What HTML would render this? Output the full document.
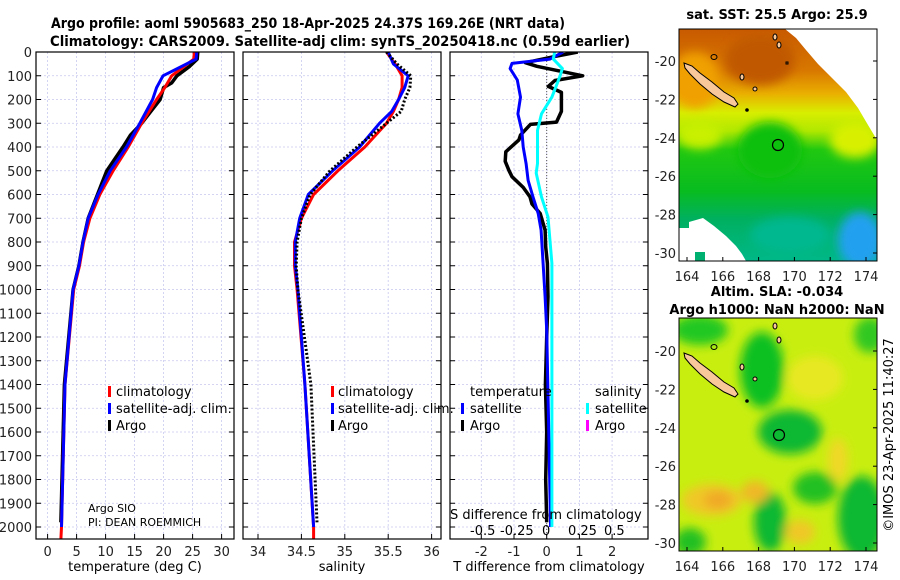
<!DOCTYPE html>
<html><head><meta charset="utf-8">
<style>
html,body{margin:0;padding:0;background:#fff;}
svg{display:block;font-family:"DejaVu Sans","Liberation Sans",sans-serif;}
</style></head>
<body>
<svg id="fig" width="900" height="580" viewBox="0 0 900 580" xmlns="http://www.w3.org/2000/svg">
<defs>
<filter id="blur8" x="-20%" y="-20%" width="140%" height="140%"><feGaussianBlur stdDeviation="8"/></filter>
<filter id="blur5" x="-20%" y="-20%" width="140%" height="140%"><feGaussianBlur stdDeviation="5"/></filter>
<clipPath id="clip1"><rect x="36" y="52" width="198" height="487"/></clipPath>
<clipPath id="clip2"><rect x="243" y="52" width="198" height="487"/></clipPath>
<clipPath id="clip3"><rect x="450" y="52" width="198" height="487"/></clipPath>
<clipPath id="clipm1"><rect x="679" y="29" width="198" height="232"/></clipPath>
<clipPath id="clipm2"><rect x="679" y="318" width="198" height="233"/></clipPath>
<linearGradient id="sstg" x1="0" y1="0" x2="0" y2="1">
<stop offset="0" stop-color="#c85a00"/><stop offset="0.18" stop-color="#d87800"/>
<stop offset="0.28" stop-color="#eab000"/><stop offset="0.36" stop-color="#d8ee00"/>
<stop offset="0.44" stop-color="#b0e800"/><stop offset="0.52" stop-color="#20c810"/>
<stop offset="0.7" stop-color="#08bc20"/><stop offset="0.82" stop-color="#00b060"/>
<stop offset="1" stop-color="#00b888"/></linearGradient>
</defs>

<g font-weight="bold" font-size="14">
<text x="51" y="28" textLength="514" lengthAdjust="spacingAndGlyphs">Argo profile: aoml 5905683_250 18-Apr-2025 24.37S 169.26E (NRT data)</text>
<text x="50" y="46" textLength="580" lengthAdjust="spacingAndGlyphs">Climatology: CARS2009. Satellite-adj clim: synTS_20250418.nc (0.59d earlier)</text>
</g>

<g id="grid"></g>
<g id="lines"></g>
<g id="axes"></g>

<g font-size="13">
<rect x="108" y="386" width="3" height="11" fill="#f00"/><text x="116" y="396">climatology</text>
<rect x="108" y="403" width="3" height="11" fill="#00f"/><text x="116" y="413">satellite-adj. clim.</text>
<rect x="108" y="420" width="3" height="11" fill="#000"/><text x="116" y="430">Argo</text>
</g>
<g font-size="13">
<rect x="331" y="386" width="3" height="11" fill="#f00"/><text x="338" y="396">climatology</text>
<rect x="331" y="403" width="3" height="11" fill="#00f"/><text x="338" y="413">satellite-adj. clim.</text>
<rect x="331" y="420" width="3" height="11" fill="#000"/><text x="338" y="430">Argo</text>
</g>
<g font-size="13">
<text x="470" y="396">temperature</text><text x="595" y="396">salinity</text>
<rect x="461" y="403" width="3" height="11" fill="#00f"/><text x="470" y="413">satellite</text>
<rect x="461" y="420" width="3" height="11" fill="#000"/><text x="470" y="430">Argo</text>
<rect x="586" y="403" width="3" height="11" fill="#0ff"/><text x="595" y="413">satellite</text>
<rect x="586" y="420" width="3" height="11" fill="#f0f"/><text x="595" y="430">Argo</text>
</g>
<g font-size="11">
<text x="88" y="512">Argo SIO</text><text x="88" y="526">PI: DEAN ROEMMICH</text>
</g>
<g font-size="13">
<text x="450" y="519">S difference from climatology</text>
<text x="470" y="535">-0.5</text><text x="500" y="535">-0.25</text><text x="542" y="535">0</text>
<text x="568" y="535">0.25</text><text x="604" y="535">0.5</text>
</g>
<g font-size="13" text-anchor="middle">
<text x="135" y="571">temperature (deg C)</text>
<text x="342" y="571">salinity</text>
<text x="549" y="571">T difference from climatology</text>
</g>

<g>
<text x="777" y="19" font-weight="bold" font-size="13" text-anchor="middle">sat. SST: 25.5 Argo: 25.9</text>
<g clip-path="url(#clipm1)">
<rect x="679" y="29" width="198" height="232" fill="url(#sstg)"/>
<g filter="url(#blur5)">
<ellipse cx="695" cy="80" rx="25" ry="28" fill="#f0a000"/>
<ellipse cx="770" cy="150" rx="32" ry="28" fill="#10c010"/>
<ellipse cx="855" cy="140" rx="25" ry="18" fill="#d8f000"/>
<ellipse cx="700" cy="135" rx="22" ry="14" fill="#c8f000"/>
<ellipse cx="860" cy="240" rx="22" ry="28" fill="#20a0f0"/>
<ellipse cx="790" cy="235" rx="40" ry="18" fill="#00b890"/>
<ellipse cx="760" cy="60" rx="35" ry="25" fill="#c05800"/>
</g>
<polygon points="785,29 877,29 877,140 868,125 858,108 846,92 832,78 818,64 806,50 796,38" fill="#fff"/>
<polygon points="679,228 689,228 689,222 703,218 714,226 726,236 736,246 742,254 746,261 679,261" fill="#fff"/>
<rect x="695" y="252" width="10" height="9" fill="#00b070"/>
</g>
<rect x="679" y="29" width="198" height="232" fill="none" stroke="#000"/>
<g>
<path d="M684,63 L692,66 L700,73 L712,82 L724,92 L734,98 L738,104 L735,107 L724,102 L712,94 L700,84 L690,74 L685,68 Z" fill="#f9c89a" stroke="#000" stroke-width="1"/>
<ellipse cx="775" cy="37" rx="2" ry="3" fill="#f9c89a" stroke="#000"/><ellipse cx="779" cy="45" rx="2" ry="3" fill="#f9c89a" stroke="#000"/>
<ellipse cx="714" cy="57" rx="3" ry="2.5" fill="none" stroke="#000"/><ellipse cx="742" cy="77" rx="2" ry="3" fill="#f9c89a" stroke="#000"/><ellipse cx="755" cy="89" rx="2" ry="2" fill="#f9c89a" stroke="#000"/>
<rect x="786" y="62" width="2" height="2" fill="none" stroke="#000"/>
<circle cx="747" cy="110" r="1.8" fill="#000"/>
</g>
<circle cx="778" cy="145" r="5.5" fill="none" stroke="#000" stroke-width="1.2"/>
</g>

<g>
<text x="777" y="296" font-weight="bold" font-size="13" text-anchor="middle">Altim. SLA: -0.034</text>
<text x="777" y="314" font-weight="bold" font-size="13" text-anchor="middle">Argo h1000: NaN h2000: NaN</text>
<g clip-path="url(#clipm2)">
<rect x="679" y="318" width="198" height="233" fill="#c8ee10"/>
<g filter="url(#blur5)">
<ellipse cx="700" cy="330" rx="28" ry="15" fill="#20c820"/>
<ellipse cx="762" cy="370" rx="22" ry="38" fill="#10c020"/>
<ellipse cx="790" cy="432" rx="32" ry="22" fill="#10b830"/>
<ellipse cx="870" cy="335" rx="16" ry="18" fill="#30c820"/>
<ellipse cx="862" cy="518" rx="24" ry="42" fill="#10b830"/>
<ellipse cx="770" cy="522" rx="16" ry="30" fill="#10b830"/>
<ellipse cx="815" cy="488" rx="22" ry="16" fill="#20c020"/>
<ellipse cx="690" cy="542" rx="16" ry="14" fill="#20c020"/>
<ellipse cx="712" cy="500" rx="30" ry="16" fill="#f0c828"/>
<ellipse cx="718" cy="500" rx="14" ry="9" fill="#f0a828"/>
<ellipse cx="755" cy="492" rx="14" ry="11" fill="#f0b828"/>
<ellipse cx="800" cy="532" rx="15" ry="12" fill="#f0c828"/>
<ellipse cx="838" cy="460" rx="10" ry="22" fill="#f0d828"/>
<ellipse cx="815" cy="378" rx="28" ry="22" fill="#e8e820"/>
</g>
</g>
<rect x="679" y="318" width="198" height="233" fill="none" stroke="#000"/>
<g>
<path d="M684,353 L692,356 L700,363 L712,372 L724,382 L734,388 L738,394 L735,397 L724,392 L712,384 L700,374 L690,364 L685,358 Z" fill="#f9c89a" stroke="#000" stroke-width="1"/>
<ellipse cx="775" cy="326" rx="2" ry="3" fill="#f9c89a" stroke="#000"/><ellipse cx="779" cy="340" rx="2" ry="3" fill="#f9c89a" stroke="#000"/>
<ellipse cx="714" cy="347" rx="3" ry="2.5" fill="none" stroke="#000"/><ellipse cx="742" cy="367" rx="2" ry="3" fill="#f9c89a" stroke="#000"/><ellipse cx="755" cy="379" rx="2" ry="2" fill="#f9c89a" stroke="#000"/>
<circle cx="747" cy="401" r="1.8" fill="#000"/>
</g>
<circle cx="779" cy="435" r="5.5" fill="none" stroke="#000" stroke-width="1.2"/>
</g>
<text transform="translate(893,435) rotate(-90)" font-size="13" text-anchor="middle">©IMOS 23-Apr-2025 11:40:27</text>
<g id="mapaxes"></g>

<script>
// ---- data ----
const depthT = [0, 30, 100, 150, 200, 300, 400, 500, 600, 700, 800, 900, 1000, 1400, 2000, 2050];
const tempClim = [25.3, 25.2, 21.4, 20.2, 18.8, 16.2, 13.9, 11.3, 9.0, 7.3, 6.2, 5.5, 4.5, 3.0, 2.4, 2.3];
const tempSat = [25.7, 25.6, 19.9, 18.8, 18.1, 15.9, 13.6, 10.8, 8.7, 7.0, 6.1, 5.4, 4.4, 3.0, 2.4];
const depthArgoT = [0, 30, 60, 100, 130, 150, 200, 250, 300, 350, 400, 450, 500, 550, 600, 700, 800, 900, 1000, 1400, 1980];
const tempArgo = [25.9, 25.8, 24.5, 22.3, 21.4, 20.0, 19.4, 17.8, 16.2, 14.3, 13.0, 11.6, 10.2, 9.4, 8.6, 7.0, 6.1, 5.4, 4.4, 2.9, 2.3];

const depthS = [0, 50, 100, 150, 200, 250, 300, 400, 500, 600, 700, 800, 900, 1000, 1400, 2000, 2050];
const salClim = [35.48, 35.58, 35.66, 35.66, 35.62, 35.56, 35.48, 35.23, 34.92, 34.64, 34.50, 34.42, 34.42, 34.45, 34.54, 34.64, 34.64];
const salSat = [35.50, 35.56, 35.73, 35.69, 35.62, 35.54, 35.40, 35.17, 34.86, 34.58, 34.48, 34.43, 34.43, 34.46, 34.54, 34.64];
const depthArgoS = [0, 50, 100, 150, 200, 250, 300, 400, 500, 600, 700, 800, 900, 1000, 1400, 1980];
const salArgo = [35.48, 35.60, 35.76, 35.75, 35.69, 35.65, 35.48, 35.14, 34.83, 34.60, 34.50, 34.45, 34.44, 34.46, 34.61, 34.68];

const depthDT = [0, 30, 48, 70, 118, 190, 260, 330, 400, 470, 540, 610, 680, 750, 890, 1030, 1170, 1500, 2000];
const dTsat = [0.5, 0.1, -1.06, -1.12, -0.9, -0.8, -0.88, -0.76, -0.72, -0.63, -0.57, -0.42, -0.26, -0.17, -0.11, -0.05, 0.0, 0.05, 0.12];
const depthDS = [0, 30, 70, 104, 190, 260, 330, 400, 470, 510, 610, 695, 890, 1170, 1500, 2000];
const dSsat = [0.06, 0.05, 0.12, 0.1, 0.04, -0.04, -0.07, -0.07, -0.07, -0.08, -0.04, 0.01, 0.04, 0.04, 0.04, 0.04];
const depthDTA = [0, 20, 45, 60, 100, 120, 145, 170, 250, 295, 305, 350, 370, 420, 460, 500, 525, 570, 610, 640, 680, 750, 820, 890, 1030, 1200, 1400, 1600, 1800, 1980];
const dTargo = [0.95, 0.2, -0.65, -0.3, 1.1, 0.25, 0.05, 0.45, 0.45, 0.3, -0.5, -0.8, -0.85, -1.25, -1.27, -1.15, -1.06, -0.72, -0.51, -0.45, -0.2, -0.05, -0.03, 0.02, 0.04, 0.0, -0.04, 0.0, -0.03, 0.0];

const depthTicks = [0,100,200,300,400,500,600,700,800,900,1000,1100,1200,1300,1400,1500,1600,1700,1800,1900,2000];
const tTicks = [0,5,10,15,20,25,30];
const sTicks = [34,34.5,35,35.5,36];
const sTickLabels = ["34","34.5","35","35.5","36"];
const dTicks = [-2,-1,0,1,2];
const lonTicks = [164,166,168,170,172,174];
const latTicks = [-20,-22,-24,-26,-28,-30];

// ---- scales ----
const yD = d => 52 + d * 0.2375;
const xT = t => 47.6 + t * 5.8;
const xS = s => 258 + (s - 34) * 86.8;
const xDT = v => 546.7 + v * 32.7;
const xDS = v => 546.7 + v * 131;
const xLon = l => 687 + (l - 164) * 17.9;
const yLat1 = l => 61 + (-20 - l) * 19.2;
const yLat2 = l => 351 + (-20 - l) * 19.2;

const NS = "http://www.w3.org/2000/svg";
function mk(tag, attrs, parent) {
  const e = document.createElementNS(NS, tag);
  for (const k in attrs) e.setAttribute(k, attrs[k]);
  parent.appendChild(e);
  return e;
}
const grid = document.getElementById('grid');
const lines = document.getElementById('lines');
const axes = document.getElementById('axes');
const mapaxes = document.getElementById('mapaxes');
const panels = [[36, xT, tTicks, tTicks.map(String)], [243, xS, sTicks, sTickLabels], [450, xDT, dTicks, dTicks.map(String)]];

panels.forEach((p, i) => {
  const x0 = p[0];
  depthTicks.forEach(d => {
    const gl = mk('line', {x1: x0, x2: x0 + 198, y1: yD(d), y2: yD(d), stroke: '#c8c8ee', 'stroke-width': 0.8, 'stroke-dasharray': '2,2'}, grid);
    
    
    const tk = mk('line', {x1: x0, x2: x0 + 5, y1: yD(d), y2: yD(d), stroke: '#000'}, axes);
    
    
    const tk2 = mk('line', {x1: x0 + 198, x2: x0 + 193, y1: yD(d), y2: yD(d), stroke: '#000'}, axes);
    
    
  });
  p[2].forEach((v, j) => {
    const x = p[1](v);
    const gl = mk('line', {x1: x, x2: x, y1: 52, y2: 539, stroke: '#c8c8ee', 'stroke-width': 0.8, 'stroke-dasharray': '2,2'}, grid);
    
    
    const tk = mk('line', {x1: x, x2: x, y1: 539, y2: 534, stroke: '#000'}, axes);
    
    
    const lb = mk('text', {x: x, y: 556, 'font-size': 13, 'text-anchor': 'middle', fill: '#222'}, axes);
    lb.textContent = p[3][j];
    
    
  });
  const fr = mk('rect', {x: x0, y: 52, width: 198, height: 487, fill: 'none', stroke: '#000', 'stroke-width': 1.2}, axes);
  
  
});
depthTicks.forEach(d => {
  const lb = mk('text', {x: 32, y: yD(d) + 5, 'font-size': 13, 'text-anchor': 'end', fill: '#222'}, axes);
  lb.textContent = d;
  
  
});

function path(xs, ds, sx, attrs, clip, name) {
  const d = xs.map((v, i) => (i ? 'L' : 'M') + sx(v).toFixed(1) + ',' + yD(ds[i]).toFixed(1)).join(' ');
  const a = Object.assign({d: d, fill: 'none', 'stroke-linejoin': 'round', 'clip-path': 'url(#' + clip + ')'}, attrs);
  const e = mk('path', a, lines);
  
  
}
const z = mk('line', {x1: xDT(0), x2: xDT(0), y1: 52, y2: 539, stroke: '#555', 'stroke-width': 1, 'stroke-dasharray': '1,2'}, lines);



path(tempArgo, depthArgoT, xT, {stroke: '#000', 'stroke-width': 3.5}, 'clip1', 'temperature-argo-line');
path(tempClim, depthT, xT, {stroke: '#f00', 'stroke-width': 3}, 'clip1', 'temperature-climatology-line');
path(tempSat, depthT.slice(0, tempSat.length), xT, {stroke: '#00f', 'stroke-width': 3}, 'clip1', 'temperature-satellite-line');

path(salClim, depthS, xS, {stroke: '#f00', 'stroke-width': 3}, 'clip2', 'salinity-climatology-line');
path(salSat, depthS.slice(0, salSat.length), xS, {stroke: '#00f', 'stroke-width': 3}, 'clip2', 'salinity-satellite-line');
path(salArgo, depthArgoS, xS, {stroke: '#000', 'stroke-width': 3, 'stroke-dasharray': '2,2'}, 'clip2', 'salinity-argo-line');

path(dTargo, depthDTA, xDT, {stroke: '#000', 'stroke-width': 3.5}, 'clip3', 't-diff-argo-line');
path(dTsat, depthDT, xDT, {stroke: '#00f', 'stroke-width': 3}, 'clip3', 't-diff-satellite-line');
path(dSsat, depthDS, xDS, {stroke: '#0ff', 'stroke-width': 3}, 'clip3', 's-diff-satellite-line');

[[261, yLat1, 276], [551, yLat2, 566]].forEach(m => {
  lonTicks.forEach(l => {
    const x = xLon(l);
    const t = mk('line', {x1: x, x2: x, y1: m[0], y2: m[0] - 4, stroke: '#000'}, mapaxes);
    
    
    const lb = mk('text', {x: x, y: m[2] + 5, 'font-size': 13, 'text-anchor': 'middle', fill: '#222'}, mapaxes);
    lb.textContent = l;
    
    
  });
  latTicks.forEach(l => {
    const y = m[1](l);
    const t = mk('line', {x1: 877, x2: 873, y1: y, y2: y, stroke: '#000'}, mapaxes);
    
    
    const lb = mk('text', {x: 676, y: y + 5, 'font-size': 13, 'text-anchor': 'end', fill: '#222'}, mapaxes);
    lb.textContent = l;
    
    
  });
});
</script>
</svg>
</body></html>
